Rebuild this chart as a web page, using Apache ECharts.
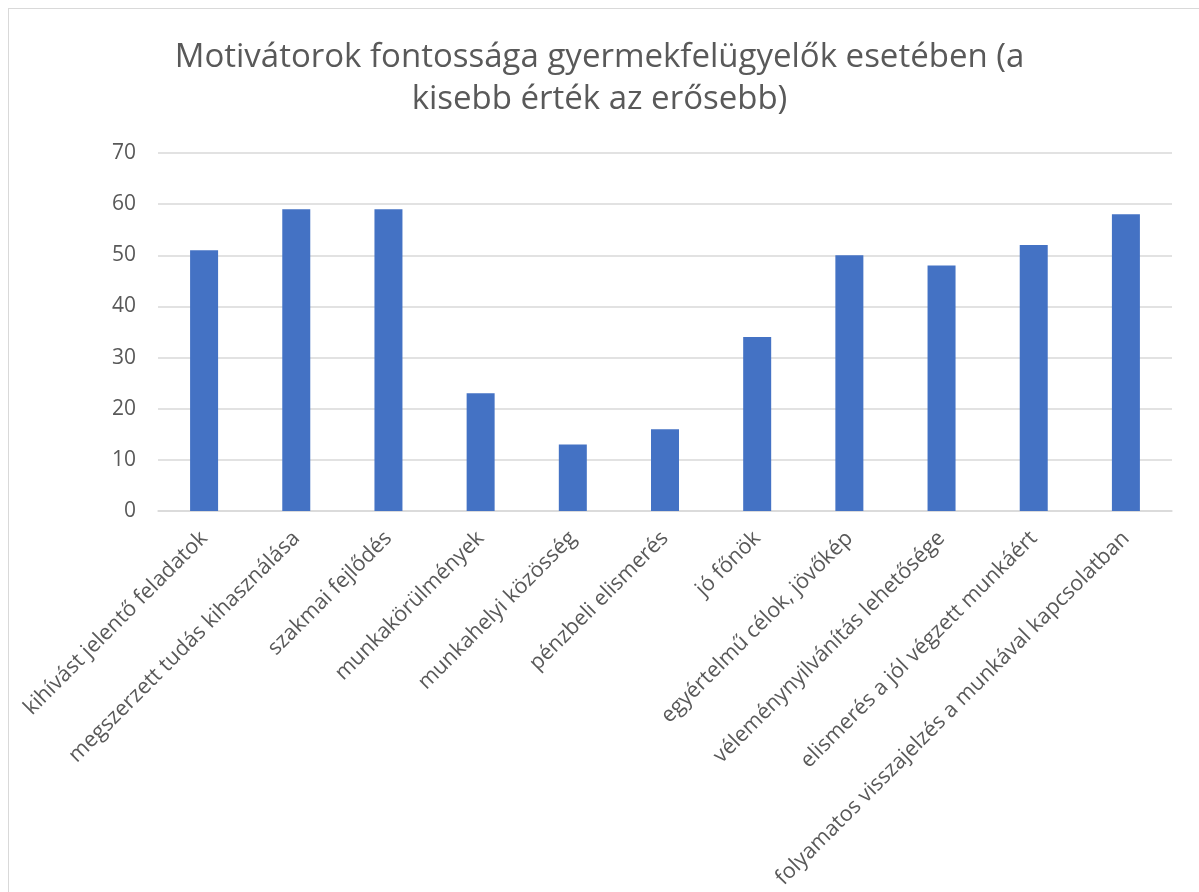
<!DOCTYPE html>
<html>
<head>
<meta charset="utf-8">
<script src="https://cdn.jsdelivr.net/npm/echarts@6/dist/echarts.min.js"></script>
<style>
html,body{margin:0;padding:0;background:#fff;}
#frame{position:absolute;left:8px;top:8px;width:1300px;height:1000px;border:1.5px solid #d9d9d9;box-sizing:border-box;}
#chart{position:absolute;left:0;top:0;width:1199px;height:892px;}
</style>
</head>
<body>
<div id="frame"></div>
<div id="chart"></div>
<script>
const titleText = 'Motivátorok fontossága gyermekfelügyelők esetében (a\nkisebb érték az erősebb)';
const categories = [
  'kihívást jelentő feladatok',
  'megszerzett tudás kihasználása',
  'szakmai fejlődés',
  'munkakörülmények',
  'munkahelyi közösség',
  'pénzbeli elismerés',
  'jó főnök',
  'egyértelmű célok, jövőkép',
  'véleménynyilvánítás lehetősége',
  'elismerés a jól végzett munkáért',
  'folyamatos visszajelzés a munkával kapcsolatban'
];
const values = [51, 59, 59, 23, 13, 16, 34, 50, 48, 52, 58];
const yTicks = {min: 0, max: 70, interval: 10};

const chart = echarts.init(document.getElementById('chart'), null, {renderer: 'canvas'});
chart.setOption({
  animation: false,
  backgroundColor: 'transparent',
  textStyle: {fontFamily: 'Open Sans'},
  title: {
    text: titleText,
    left: 'center',
    top: 32,
    textStyle: {fontFamily: 'Open Sans', fontSize: 33, fontWeight: 'normal', color: '#595959', lineHeight: 42}
  },
  grid: {left: 158, right: 27, top: 153, bottom: 381, containLabel: false, outerBoundsMode: 'none'},
  xAxis: {
    type: 'category',
    data: categories,
    axisLine: {show: true, lineStyle: {color: '#d9d9d9', width: 1.5}},
    axisTick: {show: false},
    axisLabel: {rotate: 45, interval: 0, margin: 24, fontSize: 21.5, color: '#595959', fontFamily: 'Open Sans'}
  },
  yAxis: {
    type: 'value',
    min: yTicks.min, max: yTicks.max, interval: yTicks.interval,
    axisLine: {show: false},
    axisTick: {show: false},
    splitLine: {lineStyle: {color: '#d9d9d9', width: 1.5}},
    axisLabel: {fontSize: 21, color: '#595959', margin: 22, fontFamily: 'Open Sans'}
  },
  series: [{
    type: 'bar',
    data: values,
    barWidth: 28,
    itemStyle: {color: '#4472c4'}
  }]
});
</script>
</body>
</html>
